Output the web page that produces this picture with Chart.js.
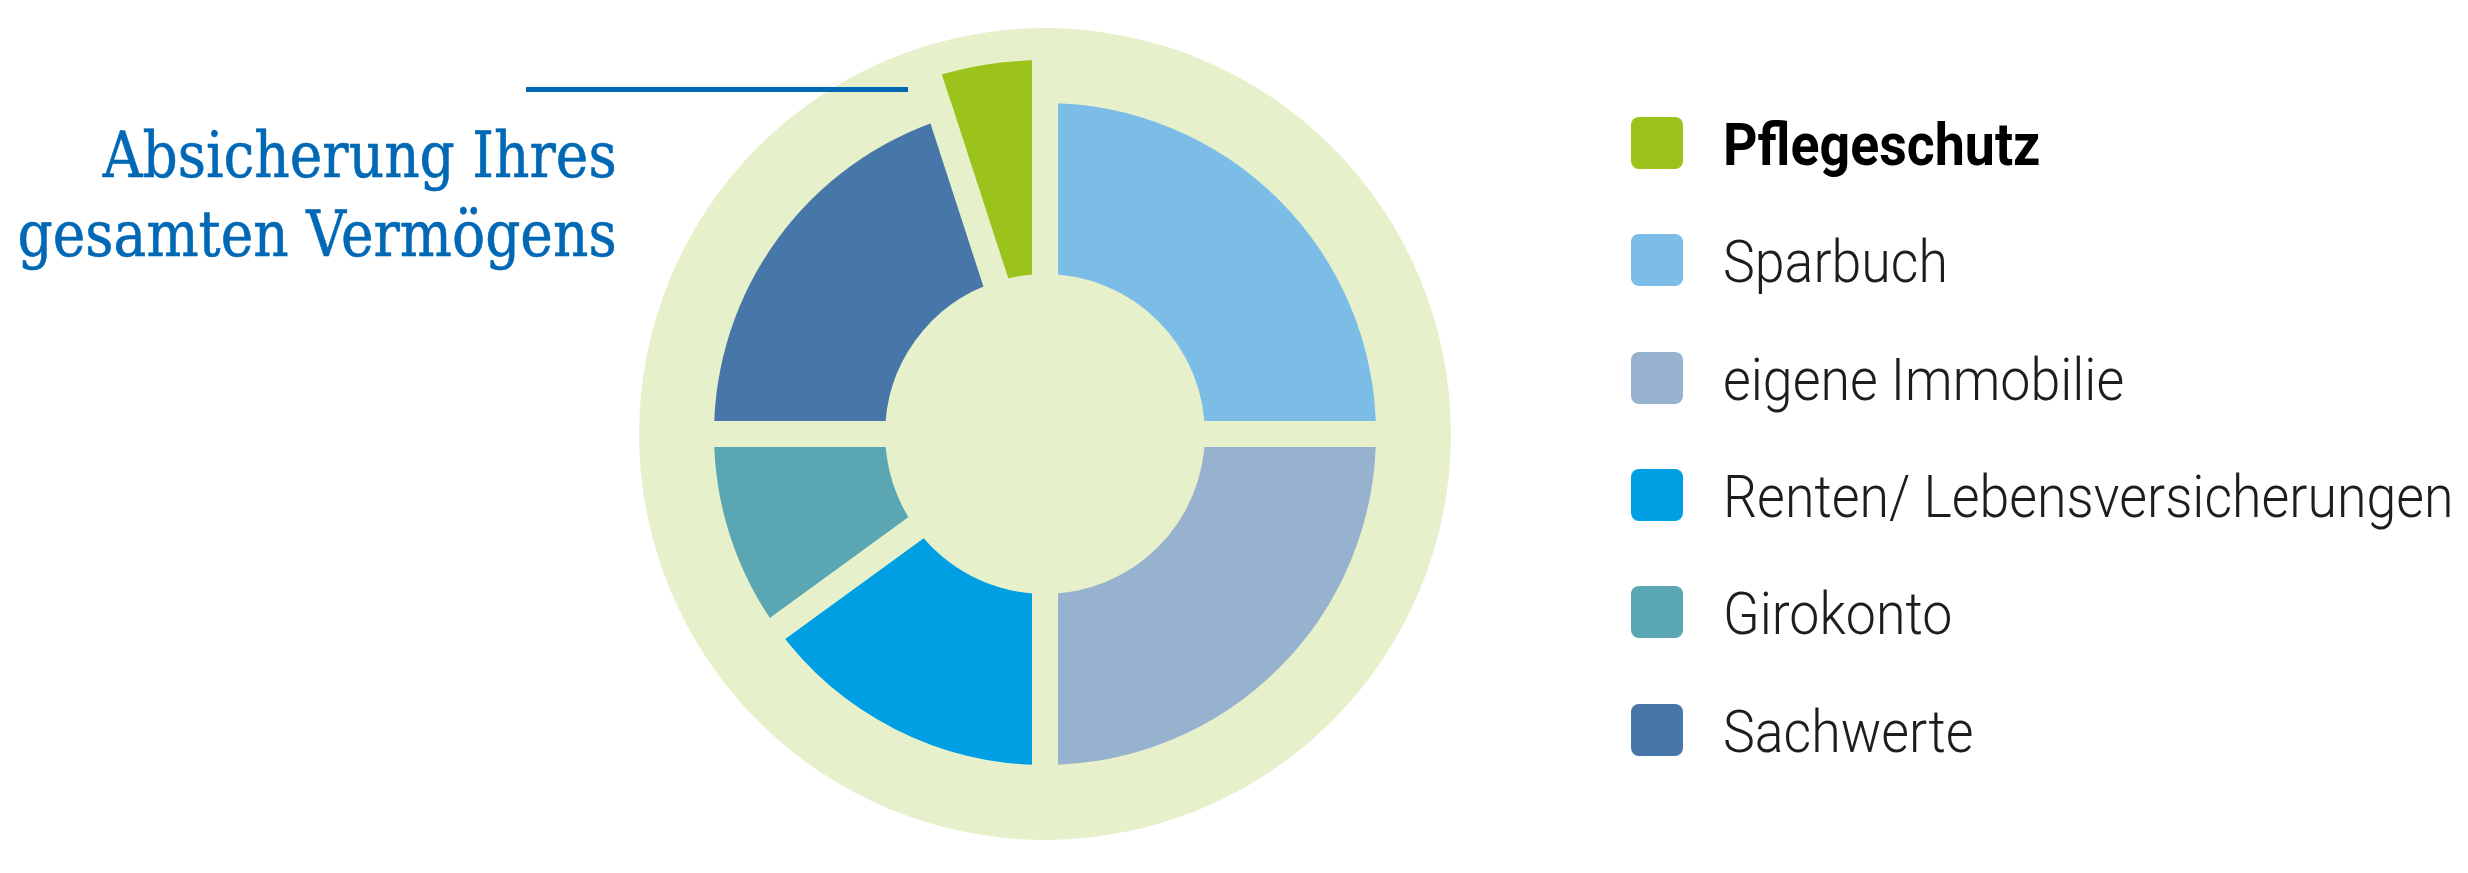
<!DOCTYPE html>
<html lang="de">
<head>
<meta charset="utf-8">
<title>Absicherung Ihres gesamten Vermögens</title>
<script src="https://cdn.jsdelivr.net/npm/chart.js@4.4.1/dist/chart.umd.min.js"></script>
<style>
  html, body { margin: 0; padding: 0; background: #fff; }
  body { width: 2468px; height: 873px; position: relative; overflow: hidden; }
  #titel {
    position: absolute; right: 1851px; top: 116px;
    font-family: "DejaVu Serif", serif; font-size: 64px; line-height: 79px;
    color: #0068b4; text-align: right; white-space: nowrap;
    -webkit-text-stroke: 0.6px #0068b4;
    transform: scaleX(0.86); transform-origin: right top;
  }
  #linie { position: absolute; left: 526px; top: 87px; width: 382px; height: 5px; background: #0068b4; z-index: 2; }
  #chartBox { position: absolute; left: 625px; top: 14px; width: 840px; height: 840px; z-index: 1; }
  #legende { position: absolute; left: 1631px; top: 0; }
  .eintrag { position: absolute; left: 0; height: 52px; display: flex; align-items: center; white-space: nowrap; }
  .farbe { width: 52px; height: 52px; border-radius: 8px; margin-right: 40px; flex: none; }
  .text {
    display: inline-block; font-family: Roboto, sans-serif; font-weight: 300; font-size: 60px;
    line-height: 52px; color: #1d1d1b; padding-top: 4px;
    transform: scaleX(0.895); transform-origin: left center;
  }
  .text.fett { font-weight: 700; color: #000; }
</style>
</head>
<body>
<div id="titel">Absicherung Ihres<br>gesamten Vermögens</div>
<div id="chartBox"><canvas id="vermoegenChart"></canvas></div>
<div id="linie"></div>
<div id="legende"></div>

<script>
const kategorien = ['Pflegeschutz', 'Sparbuch', 'eigene Immobilie', 'Renten/ Lebensversicherungen', 'Girokonto', 'Sachwerte'];
const anteile = [5, 25, 25, 15, 10, 20];
const farben = ['#9bc31b', '#7bbde6', '#97b2ce', '#009fe3', '#5ba6b3', '#4777a8'];
const hervorgehoben = 0; // Pflegeschutz

const hintergrund = '#e6f0cb';

// hellgruene Scheibe hinter dem Ring, und Pflegeschutz-Segment etwas groesser
const ringPlugin = {
  id: 'ringPlugin',
  afterDatasetsUpdate(chart) {
    const meta = chart.getDatasetMeta(0);
    const arc = meta.data[hervorgehoben];
    arc.outerRadius = arc.outerRadius * 1.125;
  },
  beforeDatasetsDraw(chart) {
    const meta = chart.getDatasetMeta(0);
    const ref = meta.data[1];
    const ctx = chart.ctx;
    ctx.save();
    ctx.fillStyle = hintergrund;
    ctx.beginPath();
    ctx.arc(ref.x, ref.y, ref.outerRadius * 1.18, 0, Math.PI * 2);
    ctx.fill();
    ctx.restore();
  }
};

function renderLegende() {
  const box = document.getElementById('legende');
  kategorien.forEach((name, i) => {
    const row = document.createElement('div');
    row.className = 'eintrag';
    row.style.top = (117 + i * 117.3) + 'px';
    const sw = document.createElement('div');
    sw.className = 'farbe';
    sw.style.background = farben[i];
    const t = document.createElement('span');
    t.className = 'text' + (i === hervorgehoben ? ' fett' : '');
    t.textContent = name;
    row.appendChild(sw);
    row.appendChild(t);
    box.appendChild(row);
  });
}

function renderChart() {
  const ctx = document.getElementById('vermoegenChart').getContext('2d');
  new Chart(ctx, {
    type: 'doughnut',
    data: {
      labels: kategorien,
      datasets: [{
        data: anteile,
        backgroundColor: farben,
        borderColor: hintergrund,
        borderWidth: 26,
        borderAlign: 'center',
        borderJoinStyle: 'bevel',
        radius: 344,
        cutout: '42.7%'
      }]
    },
    options: {
      responsive: true,
      maintainAspectRatio: false,
      animation: false,
      rotation: -18,
      layout: { padding: 0 },
      plugins: { legend: { display: false }, tooltip: { enabled: false } }
    },
    plugins: [ringPlugin]
  });
}

renderLegende();
renderChart();
</script>
</body>
</html>
